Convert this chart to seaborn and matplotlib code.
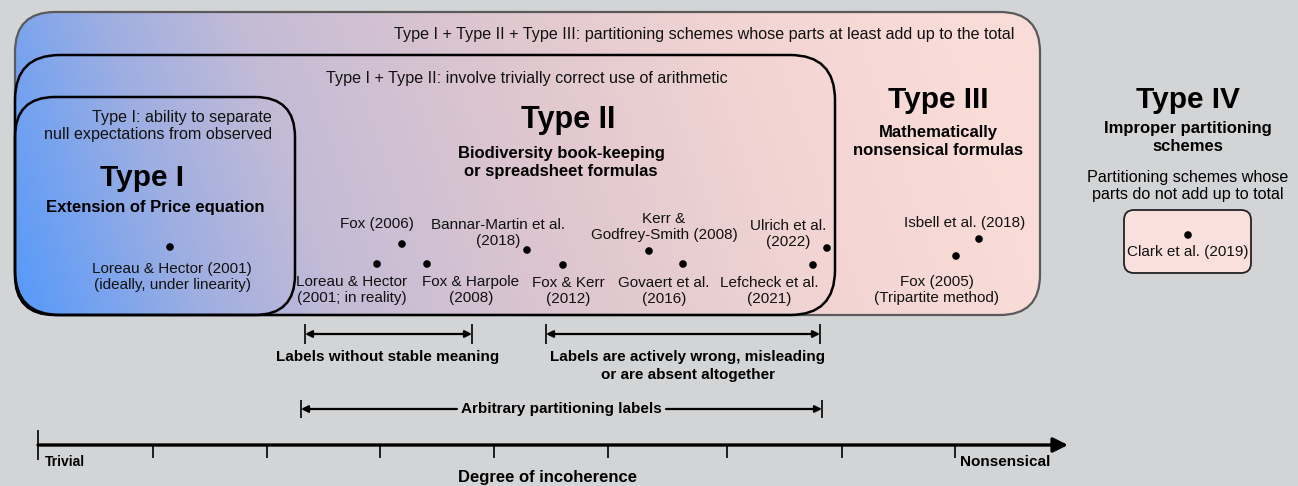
import numpy as np
import matplotlib
matplotlib.use("Agg")
import matplotlib.pyplot as plt
import seaborn as sns
from matplotlib.patches import FancyBboxPatch
from matplotlib.colors import LinearSegmentedColormap
from matplotlib import font_manager

sns.set_theme(style="white")
plt.rcParams['font.family'] = ['Liberation Sans', 'DejaVu Sans']

names = {f.name for f in font_manager.fontManager.ttflist}
NARROW = ['Liberation Sans Narrow', 'Liberation Sans'] if 'Liberation Sans Narrow' in names else ['Liberation Sans']

# ---------------- data ----------------
study_labels = ["Loreau & Hector (2001)\n(ideally, under linearity)",
                "Fox (2006)",
                "Loreau & Hector\n(2001; in reality)",
                "Fox & Harpole\n(2008)",
                "Bannar-Martin et al.\n(2018)",
                "Fox & Kerr\n(2012)",
                "Kerr &\nGodfrey-Smith (2008)",
                "Govaert et al.\n(2016)",
                "Ulrich et al.\n(2022)",
                "Lefcheck et al.\n(2021)",
                "Isbell et al. (2018)",
                "Fox (2005)\n(Tripartite method)",
                "Clark et al. (2019)"]
study_x = [170, 402, 377, 427, 527, 563, 649, 683, 827, 813, 979, 956, 1188]
study_y = [247, 244, 264, 264, 250, 265, 251, 264, 248, 265, 239, 256, 235]
label_x = [172, 377, 352, 471, 498, 568, 664, 664, 788, 769, 965, 937, 1188]
label_y = [277, 224, 290, 290, 233, 291, 227, 291, 234, 291, 223, 290, 252]

axis_ticks = [153, 267, 380, 494, 608, 727, 842, 955]

# ---------------- figure ----------------
fig = plt.figure(figsize=(12.98, 4.86), dpi=100)
BG = '#d3d4d6'
fig.patch.set_facecolor(BG)
ax = fig.add_axes([0, 0, 1, 1])
ax.set_facecolor(BG)

FS = 11.6     # header texts
FSL = 11.0    # study labels
FSB = 12.0    # bold subtitles

# gradient outer box
x0, x1, y0, y1 = 15, 1040, 12, 315
outer = FancyBboxPatch((x0, y0), x1 - x0, y1 - y0,
                       boxstyle="round,pad=0,rounding_size=40",
                       facecolor='none', edgecolor='#5a5a5a', lw=1.6, zorder=3)
ax.add_patch(outer)
cmap = LinearSegmentedColormap.from_list(
    "g", [(0.0, '#5599fa'), (0.18, '#9daee2'), (0.32, '#c4bbd6'),
          (0.55, '#dec6cf'), (0.8, '#f2d5d3'), (1.0, '#f9dcd7')])
xx, yy = np.meshgrid(np.linspace(x0, x1, 600), np.linspace(y0, y1, 200))
t = (xx - x0) / (x1 - x0) + 0.10 * (yy - y1) / (y0 - y1)
t = np.clip(t, 0, 1)
img = cmap(t)
im = ax.imshow(img, extent=(x0, x1, y1, y0), origin='upper', zorder=1,
               interpolation='bilinear', aspect='auto')
im.set_clip_path(outer)

box12 = FancyBboxPatch((15, 55), 820, 260, boxstyle="round,pad=0,rounding_size=45",
                       facecolor='none', edgecolor='black', lw=1.8, zorder=4)
ax.add_patch(box12)
box1 = FancyBboxPatch((15, 97), 280, 218, boxstyle="round,pad=0,rounding_size=40",
                      facecolor='none', edgecolor='black', lw=1.8, zorder=4)
ax.add_patch(box1)
box4 = FancyBboxPatch((1124, 210), 127, 63, boxstyle="round,pad=0,rounding_size=10",
                      facecolor='#f9e0dc', edgecolor='#222222', lw=1.3, zorder=4)
ax.add_patch(box4)

# dots
sns.scatterplot(x=study_x, y=study_y, ax=ax, color='black', s=30,
                edgecolor='none', legend=False, zorder=6)

for lab, lx, ly in zip(study_labels, label_x, label_y):
    ax.text(lx, ly, lab, ha='center', va='center', fontsize=FSL,
            linespacing=1.25, color='#111111', zorder=7)

# headings
T = dict(ha='center', va='center', zorder=7, color='black')
ax.text(1015, 34, "Type I + Type II + Type III: partitioning schemes whose parts at least add up to the total",
        ha='right', va='center', fontsize=FS, zorder=7, color='#111111')
ax.text(527, 78, "Type I + Type II: involve trivially correct use of arithmetic",
        ha='center', va='center', fontsize=FS, zorder=7, color='#111111')
ax.text(272, 126, "Type I: ability to separate\nnull expectations from observed",
        ha='right', va='center', fontsize=FS, linespacing=1.2, zorder=7, color='#111111')

ax.text(142, 178, "Type I", fontsize=21.5, fontweight='bold', **T)
ax.text(155, 207, "Extension of Price equation", fontsize=FSB, fontweight='bold', **T)
ax.text(568, 120, "Type II", fontsize=22, fontweight='bold', **T)
ax.text(561, 162, "Biodiversity book-keeping\nor spreadsheet formulas", fontsize=FSB,
        fontweight='bold', linespacing=1.25, **T)
ax.text(938, 100, "Type III", fontsize=21.5, fontweight='bold', **T)
ax.text(938, 141, "Mathematically\nnonsensical formulas", fontsize=FSB,
        fontweight='bold', linespacing=1.25, **T)
ax.text(1188, 100, "Type IV", fontsize=21.5, fontweight='bold', **T)
ax.text(1188, 137, "Improper partitioning\nschemes", fontsize=FSB,
        fontweight='bold', linespacing=1.25, **T)
ax.text(1188, 186, "Partitioning schemes whose\nparts do not add up to total",
        fontsize=FS, linespacing=1.2, **T)

# brackets
def bracket(xa, xb, y, h=10):
    ax.vlines([xa, xb], y - h, y + h, color='black', lw=1.2, zorder=7)
    ax.annotate("", xy=(xa, y), xytext=(xb, y),
                arrowprops=dict(arrowstyle='<|-|>', color='black', lw=1.6,
                                mutation_scale=10, shrinkA=0, shrinkB=0), zorder=7)

bracket(305, 472, 334)
ax.text(388, 357, "Labels without stable meaning", fontsize=11, fontweight='bold',
        family=NARROW, **T)
bracket(546, 820, 334)
ax.text(688, 366, "Labels are actively wrong, misleading\nor are absent altogether",
        fontsize=11, fontweight='bold', family=NARROW, linespacing=1.3, **T)

# arbitrary labels bracket
ya = 409
ax.vlines([301, 822], ya - 9, ya + 9, color='black', lw=1.2, zorder=7)
ax.annotate("", xy=(301, ya), xytext=(457, ya),
            arrowprops=dict(arrowstyle='-|>', color='black', lw=1.6,
                            mutation_scale=10, shrinkA=0, shrinkB=0))
ax.annotate("", xy=(822, ya), xytext=(666, ya),
            arrowprops=dict(arrowstyle='-|>', color='black', lw=1.6,
                            mutation_scale=10, shrinkA=0, shrinkB=0))
ax.text(561, ya, "Arbitrary partitioning labels", fontsize=11, fontweight='bold',
        family=NARROW, **T)

# degree of incoherence axis
ya2 = 445
ax.annotate("", xy=(1068, ya2), xytext=(38, ya2),
            arrowprops=dict(arrowstyle='-|>', color='black', lw=2.4,
                            mutation_scale=22, shrinkA=0, shrinkB=0))
ax.vlines([38], 430, 460, color='black', lw=1.2)
ax.vlines(axis_ticks, ya2, 458, color='black', lw=1.2)
ax.text(45, 462, "Trivial", ha='left', va='center', fontsize=10, fontweight='bold',
        family=NARROW, color='black')
ax.text(960, 462, "Nonsensical", ha='left', va='center', fontsize=11, fontweight='bold',
        family=NARROW, color='black')
ax.text(548, 477, "Degree of incoherence", fontsize=12, fontweight='bold', **T)

ax.set_xlim(0, 1298)
ax.set_ylim(486, 0)
ax.set_axis_off()

fig.savefig("out.png", dpi=100, facecolor=BG)
